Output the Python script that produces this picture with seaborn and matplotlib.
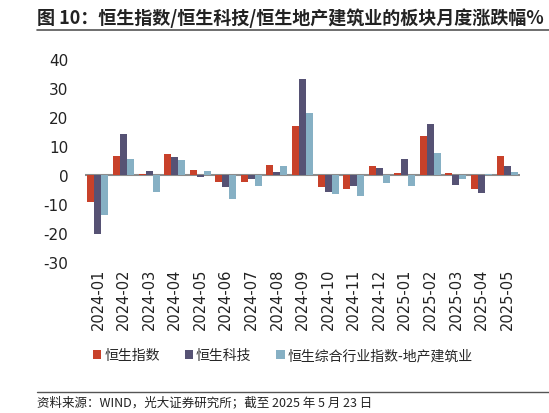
import matplotlib
matplotlib.use("Agg")
import matplotlib.pyplot as plt
import numpy as np
import pandas as pd
import seaborn as sns
from matplotlib.patches import Patch
from matplotlib.lines import Line2D

months = ["2024-01", "2024-02", "2024-03", "2024-04", "2024-05", "2024-06",
          "2024-07", "2024-08", "2024-09", "2024-10", "2024-11", "2024-12",
          "2025-01", "2025-02", "2025-03", "2025-04", "2025-05"]
hsi = [-9.5, 6.5, 0.3, 7.2, 1.7, -2.4, -2.4, 3.4, 17.0, -4.1, -4.8, 3.1,
       0.7, 13.3, 0.7, -4.8, 6.5]
hstech = [-20.5, 14.0, 1.4, 6.1, -0.7, -4.1, -1.4, 1.0, 33.1, -5.8, -3.8, 2.4,
          5.5, 17.7, -3.4, -6.1, 3.1]
property_idx = [-13.9, 5.5, -5.8, 5.1, 1.4, -8.2, -3.8, 3.1, 21.5, -6.5, -7.2, -2.7,
                -3.8, 7.5, -1.4, 0.3, 1.0]
series_names = ["恒生指数", "恒生科技", "恒生综合行业指数-地产建筑业"]
colors = ["#C8412A", "#565274", "#86B0C4"]

df = pd.DataFrame({
    "month": months * 3,
    "value": hsi + hstech + property_idx,
    "series": [series_names[0]] * len(months) + [series_names[1]] * len(months)
              + [series_names[2]] * len(months),
})

sns.set_style("white")
plt.rcParams["font.family"] = ["Noto Sans CJK SC", "DejaVu Sans"]

fig = plt.figure(figsize=(5.49, 4.14), dpi=100)
ax = fig.add_axes([0.155, 0.365, 0.792, 0.49])

sns.barplot(data=df, x="month", y="value", hue="series", palette=colors,
            width=0.82, ax=ax, legend=False, saturation=1,
            linewidth=0, edgecolor="none")

ax.axhline(0, color="#8c8c8c", lw=1.5, zorder=0.5)
ax.set_ylim(-30, 40)
ax.set_xlim(-0.5, len(months) - 0.5)
ax.set_yticks(range(-30, 41, 10))
ax.set_yticklabels([str(v) for v in range(-30, 41, 10)], fontsize=11,
                   family="DejaVu Sans", color="#222222")
ax.set_xticks(range(len(months)))
ax.set_xticklabels(months, rotation=90, fontsize=10.5, family="DejaVu Sans",
                   color="#222222")
ax.tick_params(axis="both", length=0, pad=4)
ax.tick_params(axis="y", pad=12)
ax.set_xlabel("")
ax.set_ylabel("")
for s in ax.spines.values():
    s.set_visible(False)

handles = [Patch(facecolor=c, edgecolor="none") for c in colors]
fig.legend(handles, series_names, loc="center", bbox_to_anchor=(0.515, 0.14),
           ncol=3, frameon=False, fontsize=10, handlelength=0.6,
           handleheight=0.6, handletextpad=0.2, columnspacing=1.8)

# title and footer
fig.text(0.068, 0.955, "图 10：恒生指数/恒生科技/恒生地产建筑业的板块月度涨跌幅%",
         fontsize=13, fontweight="bold", va="center", ha="left", color="#222222")
fig.add_artist(Line2D([0.068, 1.0], [0.925, 0.925], color="#555555", lw=1.2))
fig.add_artist(Line2D([0.068, 1.0], [0.051, 0.051], color="#555555", lw=1.0))
fig.text(0.068, 0.027, "资料来源：WIND，光大证券研究所；截至 2025 年 5 月 23 日",
         fontsize=9, va="center", ha="left", color="#222222")

fig.savefig("out.png", dpi=100)
